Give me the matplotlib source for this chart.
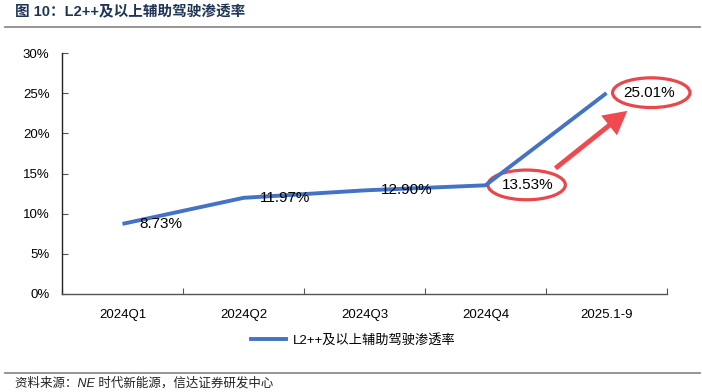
import matplotlib.pyplot as plt
from matplotlib.patches import Ellipse, FancyArrowPatch
from matplotlib.lines import Line2D

plt.rcParams['font.family'] = ['Liberation Sans', 'Noto Sans CJK SC', 'DejaVu Sans']

# 数据
categories = ['2024Q1', '2024Q2', '2024Q3', '2024Q4', '2025.1-9']
penetration = [8.73, 11.97, 12.90, 13.53, 25.01]
series_name = 'L2++及以上辅助驾驶渗透率'
yticks = [0, 5, 10, 15, 20, 25, 30]

title = '图 10：L2++及以上辅助驾驶渗透率'
source = '资料来源：NE 时代新能源，信达证券研发中心'

line_color = '#4472C4'
red = '#E8474C'

fig = plt.figure(figsize=(7.02, 3.92), dpi=100)
ax = fig.add_axes([62 / 702, 98 / 392, 605 / 702, 241 / 392])

x = list(range(len(categories)))
ax.plot(x, penetration, color=line_color, lw=2.8, solid_capstyle='butt')

for xi, v in zip(x, penetration):
    ax.annotate(f'{v:.2f}%', (xi, v), xytext=(12, 0), textcoords='offset points',
                ha='left', va='center', fontsize=11, color='black')

ax.set_xlim(-0.5, len(categories) - 0.5)
ax.set_ylim(0, 30)
ax.set_yticks(yticks)
ax.set_yticklabels([f'{t}%' for t in yticks], fontsize=9.5)
ax.set_xticks(x)
ax.set_xticklabels(categories, fontsize=9.5)
ax.set_xticks([i + 0.5 for i in range(-1, len(categories))], minor=True)
ax.tick_params(axis='x', which='major', length=0, pad=11)
ax.tick_params(axis='x', which='minor', direction='in', length=4, width=0.8, color='#555555')
ax.tick_params(axis='y', direction='in', length=4, width=0.8, pad=9, color='#555555')
for s in ['top', 'right']:
    ax.spines[s].set_visible(False)
ax.spines['left'].set_color('#222222')
ax.spines['bottom'].set_color('#555555')
ax.spines['left'].set_linewidth(1.0)
ax.spines['bottom'].set_linewidth(1.0)

# 红色椭圆标注
for i, dx in [(3, 0.34), (4, 0.37)]:
    ax.add_patch(Ellipse((x[i] + dx, penetration[i] + 0.05), 0.64, 3.7,
                         fill=False, ec=red, lw=2.3, clip_on=False))

ax.add_patch(FancyArrowPatch((x[3] + 0.56, penetration[3] + 1.9),
                             (x[4] + 0.19, penetration[4] - 2.0),
                             arrowstyle='simple,head_width=1.3,head_length=1.2,tail_width=0.25',
                             mutation_scale=14, color='#F04A50', lw=0, clip_on=False))

# 图例
handle = Line2D([], [], color=line_color, lw=2.8)
fig.legend([handle], [series_name], loc='center', bbox_to_anchor=(353 / 702, 1 - 340 / 392),
           frameon=False, fontsize=9.5, handlelength=2.7, handletextpad=0.5,
           prop={'family': ['Liberation Sans', 'Noto Sans CJK SC'], 'size': 9.5})

# 标题和来源
fig.text(15 / 702, 1 - 12 / 392, title, fontsize=10.5, fontweight='bold', color='#1F3556',
         ha='left', va='center', family=['Liberation Sans', 'Noto Sans CJK SC'])
fig.add_artist(Line2D([5 / 702, 700 / 702], [1 - 27 / 392] * 2, color='#8C8C8C', lw=1.3))
fig.add_artist(Line2D([5 / 702, 700 / 702], [1 - 373 / 392] * 2, color='#8C8C8C', lw=1.3))
fig.text(15 / 702, 1 - 383 / 392, source, fontsize=9, style='italic', color='#222222',
         ha='left', va='center', family=['Liberation Sans', 'Noto Sans CJK SC'])

fig.savefig('out.png', dpi=100)
